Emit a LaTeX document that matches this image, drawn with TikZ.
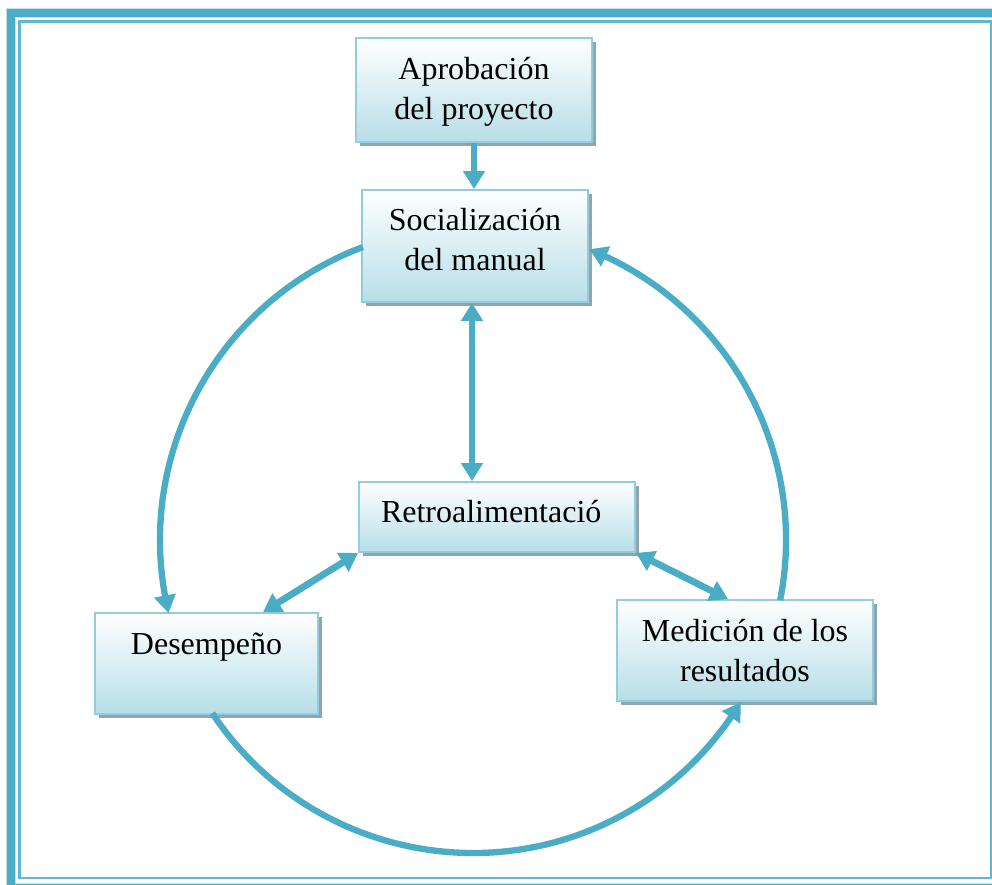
\documentclass[tikz,border=0pt]{standalone}
\usepackage{fontspec}
\setmainfont{Liberation Serif}
\usetikzlibrary{arrows.meta,bending,shadows,calc}

\definecolor{cycleblue}{RGB}{75,172,198}
\definecolor{framepale}{RGB}{190,224,234}
\definecolor{frameinner}{RGB}{98,184,206}
\definecolor{boxedge}{RGB}{147,205,221}
\definecolor{boxfill}{RGB}{183,222,232}
\definecolor{boxshadow}{RGB}{142,166,175}

\tikzset{
  stage/.style={draw=boxedge, line width=1.8pt, top color=white, bottom color=boxfill,
    inner sep=0pt, align=center, font=\fontsize{32pt}{40pt}\selectfont,
    drop shadow={shadow xshift=4pt, shadow yshift=-4pt, fill=boxshadow, opacity=1}},
  link/.style={draw=cycleblue, line width=6.8pt, -{Triangle[length=18pt,width=21pt]}},
  twoway/.style={link, {Triangle[length=18pt,width=21pt]}-{Triangle[length=18pt,width=21pt]}},
  loopline/.style={draw=cycleblue, line width=6.3pt, -{Triangle[length=18pt,width=21pt,bend]}}
}

\begin{document}
\begin{tikzpicture}[x=1pt,y=1pt]
\useasboundingbox (0,0) rectangle (992,884);

% page frame: thick outer rule and thin inner rule
\draw[framepale, line width=10pt] (11,-4) rectangle (1004,871);
\draw[cycleblue, line width=8pt] (11,-4) rectangle (1004,871);
\draw[frameinner, line width=2.2pt] (19.5,6) rectangle (991,862.5);

% stages
\node[stage, minimum width=236pt, minimum height=104pt, text height=82pt, text depth=22pt]
  (apro) at (474,794) {Aprobación\\del proyecto};
\node[stage, minimum width=226pt, minimum height=112pt, text height=81pt, text depth=31pt]
  (soc) at (475,638) {Socialización\\del manual};
\node[stage, minimum width=276pt, minimum height=70pt, text height=41pt, text depth=29pt,
  align=left, text width=232pt, inner xsep=22pt]
  (retro) at (497,367) {Retroalimentació};
\node[stage, minimum width=223pt, minimum height=101pt, text height=41pt, text depth=60pt]
  (des) at (206.5,220.5) {Desempeño};
\node[stage, minimum width=256pt, minimum height=101pt, text height=81pt, text depth=20pt]
  (med) at (745,233.5) {Medición de los\\resultados};

% straight connectors
\draw[link] (apro.south) -- (apro.south |- soc.north);
\draw[twoway] ([xshift=-3pt]soc.south) -- ([xshift=-3pt]soc.south |- retro.north);
\draw[twoway] (retro.south west) -- ([xshift=56.5pt]des.north);
\draw[twoway] (retro.south east) -- ([xshift=-17pt]med.north);

% the cycle around the feedback box
\coordinate (hub) at (473,344);
\draw[loopline] ($(hub)+(110.6:313)$) arc[start angle=110.6, end angle=193.5, radius=313];
\draw[loopline] ($(hub)+(213.6:313)$) arc[start angle=213.6, end angle=328.8, radius=313];
\draw[loopline] ($(hub)+(-11.1:313)$) arc[start angle=-11.1, end angle=68.2, radius=313];
\end{tikzpicture}
\end{document}
